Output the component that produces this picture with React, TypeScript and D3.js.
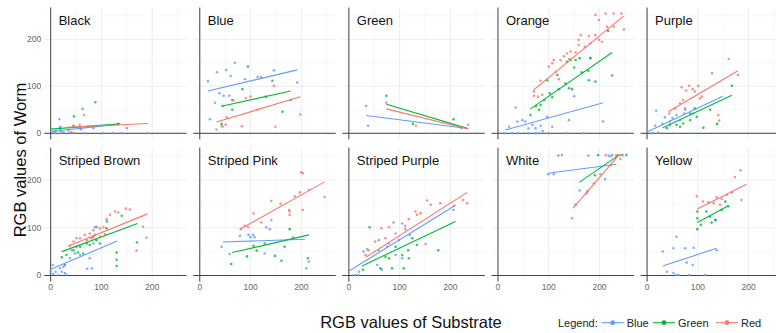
import React from "react";
import * as d3 from "d3";

type Pt = [number, number];
type Fit = [number, number, number, number];

// facet order, left to right, top to bottom
const panels = [
  "Black", "Blue", "Green", "Orange", "Purple",
  "Striped Brown", "Striped Pink", "Striped Purple", "White", "Yellow",
];

const bluePts: Pt[][] = [
  [[17,30],[63,52],[19,14],[84,11],[5,3],[20,5],[25,2],[8,0],[40,2],[67,0],[104,0],[123,0],[140,0]],
  [[16,111],[34,130],[52,135],[69,150],[61,122],[39,85],[47,80],[58,80],[20,30],[89,115],[114,120],[146,134],[192,108],[30,65]],
  [[34,58],[38,16],[222,11]],
  [[35,55],[38,25],[48,28],[54,25],[68,18],[74,11],[84,16],[97,35],[107,14],[140,28],[150,79],[182,160],[207,25],[22,14],[28,0],[40,0],[74,0],[81,0],[100,0],[133,0],[169,0],[60,0],[12,0],[88,5],[60,10]],
  [[18,48],[35,34],[50,32],[58,39],[73,42],[75,53],[16,16],[22,1],[11,1],[65,28],[91,42],[30,20],[45,25]],
  [[4,22],[10,8],[18,15],[22,8],[28,5],[38,36],[48,46],[41,53],[58,43],[72,14],[81,15],[77,36],[84,67],[87,101],[90,101],[5,3],[15,1],[31,1],[0,8],[25,18],[51,60]],
  [[43,60],[79,83],[59,45],[96,85],[100,80],[105,85],[108,80],[141,116],[131,101],[138,97],[128,46],[184,80],[210,15],[215,29]],
  [[88,111],[105,109],[206,137],[111,97],[29,50],[36,55],[59,53],[79,67],[105,36],[65,12],[56,22],[20,8],[12,1],[18,1],[59,74],[92,43],[75,60],[120,85]],
  [[119,251],[126,252],[178,251],[218,251],[222,249],[233,251],[99,212],[110,212],[161,178],[211,202]],
  [[58,81],[31,50],[52,57],[75,57],[92,58],[78,27],[90,22],[39,8],[52,5],[57,1],[62,1],[83,1],[114,1],[137,53],[136,116]],
];

const greenPts: Pt[][] = [
  [[46,36],[88,66],[45,16],[133,20],[18,10],[10,5]],
  [[95,142],[84,94],[64,71],[45,58],[64,50],[43,20],[143,112],[130,78],[179,71],[163,46]],
  [[74,80],[126,20],[206,30]],
  [[217,218],[153,156],[161,160],[136,152],[143,156],[182,160],[117,124],[133,106],[97,113],[140,96],[146,94],[120,94],[102,85],[107,77],[91,71],[84,60],[75,58],[64,39],[81,50],[192,110],[179,113],[178,133],[225,123],[150,140],[165,130]],
  [[111,12],[138,20],[167,101],[85,42],[58,18],[65,14],[71,21],[85,28],[98,35],[94,53],[45,18],[39,11],[124,50]],
  [[140,125],[111,113],[170,69],[130,48],[130,33],[130,20],[84,81],[71,67],[77,64],[58,60],[45,53],[31,43],[22,38],[28,22],[64,46],[90,74],[97,67],[54,48],[110,99]],
  [[62,24],[93,40],[177,97],[167,60],[148,41],[161,31],[112,52],[106,62],[213,36],[128,67]],
  [[41,101],[92,60],[118,36],[105,43],[117,53],[134,64],[176,53],[72,39],[79,36],[62,15],[28,12],[85,15],[108,15],[125,78]],
  [[197,252],[245,252],[253,252],[191,210],[176,176],[153,148]],
  [[99,134],[99,120],[99,97],[106,106],[124,123],[134,116],[147,137],[154,155],[127,111],[117,134],[160,145]],
];

const redPts: Pt[][] = [
  [[66,39],[57,18],[150,11],[60,8],[190,0],[45,1],[20,0],[35,6],[58,11]],
  [[66,70],[91,75],[33,8],[43,16],[51,18],[83,15],[53,34],[121,120],[146,101],[114,50],[149,14],[198,40],[100,78],[45,14]],
  [[74,65],[132,16],[235,18]],
  [[212,255],[228,255],[243,255],[192,252],[199,241],[215,227],[228,227],[248,221],[163,209],[179,207],[192,209],[159,199],[199,199],[205,195],[182,191],[159,188],[171,184],[143,174],[153,172],[136,170],[130,164],[140,158],[110,156],[123,156],[107,149],[114,131],[84,112],[120,115],[71,89],[87,82],[79,78],[100,142],[71,80]],
  [[161,158],[128,128],[179,124],[101,101],[90,94],[83,101],[77,91],[68,98],[94,89],[104,74],[108,78],[71,71],[65,64],[55,53],[75,50],[44,42],[140,39],[142,27]],
  [[156,138],[133,132],[127,134],[117,127],[169,52],[189,79],[182,102],[97,99],[110,118],[90,102],[84,95],[77,88],[67,85],[58,78],[45,71],[38,62],[87,85],[97,81],[107,87],[71,74],[51,78],[80,78],[104,101],[148,140]],
  [[200,216],[203,214],[215,179],[187,166],[197,174],[246,165],[203,137],[176,137],[177,134],[177,127],[159,150],[141,156],[106,130],[121,111],[89,104],[81,97],[95,101]],
  [[154,157],[161,148],[180,151],[131,134],[134,127],[141,130],[225,158],[233,151],[207,146],[118,118],[111,104],[79,101],[64,99],[92,88],[72,78],[52,71],[98,74],[151,66],[33,43],[39,53]],
  [[212,252],[225,252],[235,252],[240,252],[202,212],[189,193],[174,172],[146,120],[241,244],[222,231]],
  [[184,220],[173,206],[98,166],[110,155],[121,153],[137,164],[147,160],[157,169],[167,174],[186,158],[131,151],[144,148]],
];

// lm fit segments [x1, y1, x2, y2] per panel
const blueFit: Fit[] = [
  [0,4,133,19],[16,90,192,135],[34,38,222,12],[14,7,207,65],[0,3,149,79],
  [0,13,131,72],[45,70,207,76],[1,10,210,147],[99,214,233,233],[31,20,137,57],
];
const greenFit: Fit[] = [
  [0,9,137,20],[45,58,179,90],[74,62,235,10],[64,52,225,172],[31,12,167,81],
  [22,50,171,109],[64,48,215,85],[26,20,210,113],[160,195,238,252],[99,111,160,146],
];
const redFit: Fit[] = [
  [30,13,192,21],[33,24,198,78],[74,52,235,9],[70,92,248,250],[42,46,179,133],
  [35,62,191,129],[79,97,246,196],[33,38,233,174],[148,141,238,252],[99,139,196,191],
];

const majorTicks = [0, 100, 200];
const minorTicks = [50, 150, 250];

const series = [
  { name: "Blue", color: "#619CFF", pts: bluePts, fit: blueFit },
  { name: "Green", color: "#00BA38", pts: greenPts, fit: greenFit },
  { name: "Red", color: "#F8766D", pts: redPts, fit: redFit },
];

const W = 776;
const H = 333;
const FONT = "'Liberation Sans', Arial, Helvetica, sans-serif";
const domain: [number, number] = [-12.75, 267.75];
const panelW = 142.4;
const colLeft = (i: number) => 44.2 + i * 149.1;
const rowTop = [7.5, 147.6];
const rowH = [131.8, 134];

function Panel({ idx }: { idx: number }) {
  const col = idx % 5;
  const row = Math.floor(idx / 5);
  const left = colLeft(col);
  const top = rowTop[row];
  const x = d3.scaleLinear().domain(domain).range([left, left + panelW]);
  const y = d3.scaleLinear().domain(domain).range([top + rowH[row], top]);
  const line = d3.line<Pt>().x((d) => x(d[0])).y((d) => y(d[1]));

  return (
    <g>
      {minorTicks.map((t) => (
        <g key={"m" + t}>
          <line x1={x(t)} x2={x(t)} y1={top} y2={top + rowH[row]} stroke="#f2f2f2" strokeWidth={0.6} />
          <line x1={left} x2={left + panelW} y1={y(t)} y2={y(t)} stroke="#f2f2f2" strokeWidth={0.6} />
        </g>
      ))}
      {majorTicks.map((t) => (
        <g key={"M" + t}>
          <line x1={x(t)} x2={x(t)} y1={top} y2={top + rowH[row]} stroke="#e8e8e8" strokeWidth={0.8} />
          <line x1={left} x2={left + panelW} y1={y(t)} y2={y(t)} stroke="#e8e8e8" strokeWidth={0.8} />
        </g>
      ))}
      <line x1={left} x2={left + panelW} y1={y(0)} y2={y(0)} stroke="#444" strokeWidth={1} />
      <line x1={x(0)} x2={x(0)} y1={top} y2={top + rowH[row]} stroke="#444" strokeWidth={1} />
      {series.map((s) =>
        s.pts[idx].map((p, k) => (
          <circle key={s.name + k} cx={x(p[0])} cy={y(p[1])} r={1.3} fill={s.color} fillOpacity={0.8} />
        ))
      )}
      {series.map((s) => {
        const f = s.fit[idx];
        const seg: Pt[] = [[f[0], f[1]], [f[2], f[3]]];
        return <path key={s.name} d={line(seg) || ""} stroke={s.color} strokeWidth={1.1} fill="none" />;
      })}
      <text x={x(0) + 8} y={top + 17.8} fontSize={13} fontFamily={FONT} fill="#111">
        {panels[idx]}
      </text>
      {col === 0 &&
        majorTicks.map((t) => (
          <text key={"yt" + t} x={left - 3} y={y(t)} dy="0.35em" textAnchor="end" fontSize={8.5} fontFamily={FONT} fill="#666">
            {t}
          </text>
        ))}
      {row === 1 &&
        majorTicks.map((t) => (
          <text key={"xt" + t} x={x(t)} y={top + rowH[row] + 8.5} textAnchor="middle" fontSize={8.5} fontFamily={FONT} fill="#666">
            {t}
          </text>
        ))}
    </g>
  );
}

export default function App() {
  const legendX = [601.7, 653, 716];
  return (
    <svg
      width={W}
      height={H}
      viewBox={`0 0 ${W} ${H}`}
      style={{ position: "fixed", left: 0, top: 0, background: "#fff", display: "block" }}
    >
      <rect width={W} height={H} fill="#fff" />
      {panels.map((_, i) => (
        <Panel key={i} idx={i} />
      ))}
      <text
        transform="translate(26,160) rotate(-90)"
        textAnchor="middle"
        fontSize={16.5}
        fontFamily={FONT}
        fill="#111"
      >
        RGB values of Worm
      </text>
      <text x={411} y={327.5} textAnchor="middle" fontSize={16.5} fontFamily={FONT} fill="#111">
        RGB values of Substrate
      </text>
      <text x={558} y={326.5} fontSize={11} fontFamily={FONT} fill="#222">
        Legend:
      </text>
      {series.map((s, i) => (
        <g key={s.name}>
          <line x1={legendX[i]} x2={legendX[i] + 22} y1={322.7} y2={322.7} stroke={s.color} strokeWidth={1.1} />
          <circle cx={legendX[i] + 11} cy={322.7} r={2.4} fill={s.color} />
          <text x={legendX[i] + 25} y={326.5} fontSize={11} fontFamily={FONT} fill="#222">
            {s.name}
          </text>
        </g>
      ))}
    </svg>
  );
}
